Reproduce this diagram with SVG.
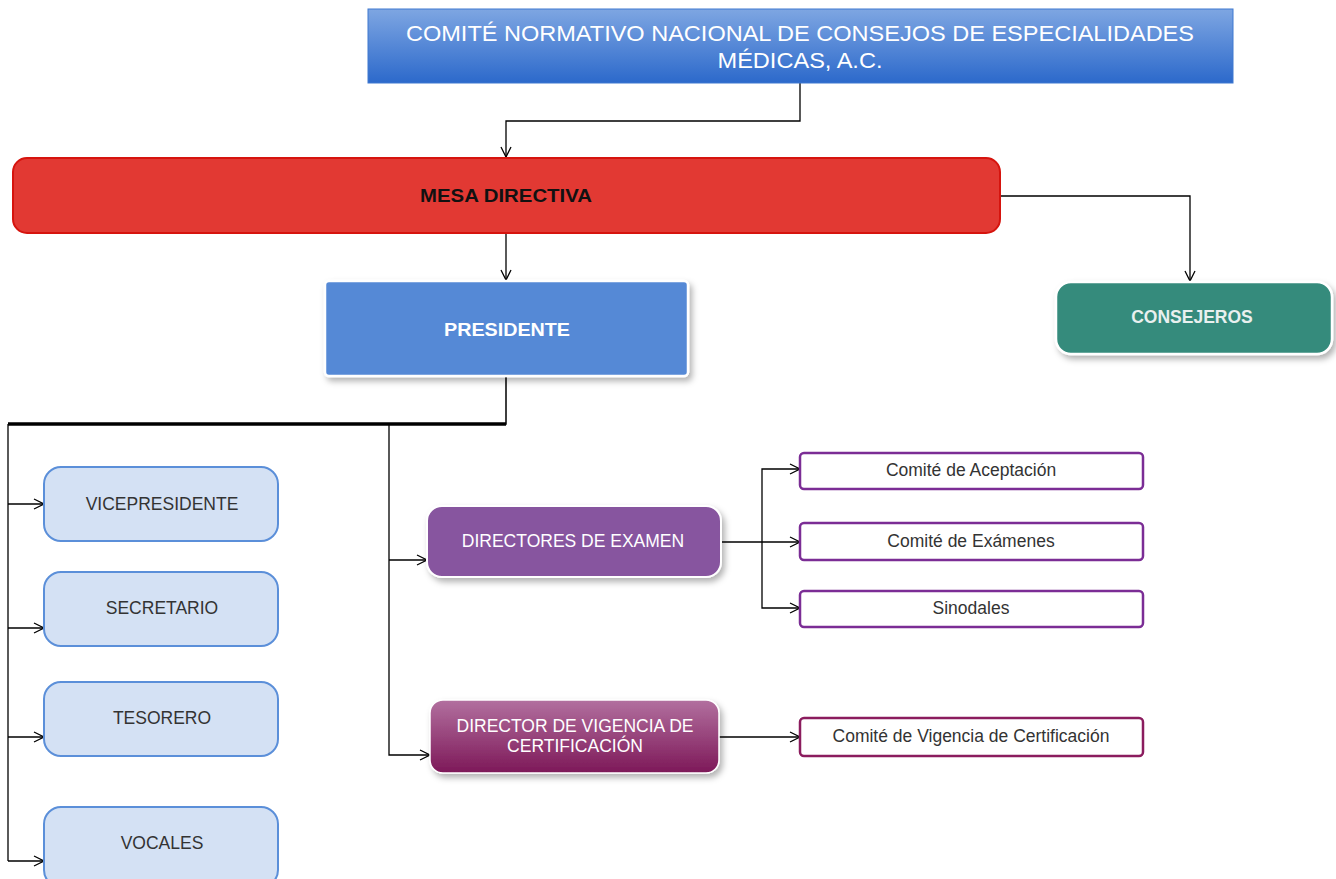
<svg xmlns="http://www.w3.org/2000/svg" width="1336" height="879" viewBox="0 0 1336 879">
<defs>
<linearGradient id="gTop" x1="0" y1="0" x2="0" y2="1"><stop offset="0" stop-color="#7ea6e2"/><stop offset="1" stop-color="#2c69cb"/></linearGradient>
<linearGradient id="gVig" x1="0" y1="0" x2="0" y2="1"><stop offset="0" stop-color="#b2709f"/><stop offset="1" stop-color="#7d1858"/></linearGradient>
<filter id="sh" x="-10%" y="-20%" width="130%" height="150%"><feDropShadow dx="3" dy="4" stdDeviation="3" flood-color="#000" flood-opacity="0.3"/></filter>
<marker id="ar" viewBox="0 0 12 12" refX="11" refY="6" markerWidth="12" markerHeight="12" markerUnits="userSpaceOnUse" orient="auto"><path d="M1,1 L11,6 L1,11" fill="none" stroke="#000" stroke-width="1.3"/></marker>
</defs>
<style>
text{font-family:"Liberation Sans",Arial,sans-serif;text-anchor:middle;dominant-baseline:central}
.c{fill:none;stroke:#000;stroke-width:1.3}
.blue{fill:#d4e1f4;stroke:#5b8fd9;stroke-width:2}
.sub{fill:#fff;stroke:#7b2d95;stroke-width:2.5}
.dark{fill:#333;font-size:17.5px}
.subt{fill:#333;font-size:17.5px}
.wt{fill:#fff;font-size:17.5px}
</style>
<rect width="1336" height="879" fill="#fff"/>
<g id="connectors">
<path class="c" d="M800,83 V121 H506 V157" marker-end="url(#ar)"/>
<path class="c" d="M1000,196 H1190 V281" marker-end="url(#ar)"/>
<path class="c" d="M506,233 V280" marker-end="url(#ar)"/>
<path d="M506,376 V424 H8" fill="none" stroke="#000" stroke-width="1.5"/>
<path d="M8,424 H506" fill="none" stroke="#000" stroke-width="3.5"/>
<path class="c" d="M8,424 V861"/>
<path class="c" d="M8,504 H44" marker-end="url(#ar)"/>
<path class="c" d="M8,628 H44" marker-end="url(#ar)"/>
<path class="c" d="M8,737 H44" marker-end="url(#ar)"/>
<path class="c" d="M8,861 H44" marker-end="url(#ar)"/>
<path class="c" d="M389,424 V755 H430" marker-end="url(#ar)"/>
<path class="c" d="M389,560 H427" marker-end="url(#ar)"/>
<path class="c" d="M721,542 H800" marker-end="url(#ar)"/>
<path class="c" d="M762,542 V469 H800" marker-end="url(#ar)"/>
<path class="c" d="M762,542 V608 H800" marker-end="url(#ar)"/>
<path class="c" d="M719,737 H800" marker-end="url(#ar)"/>
</g>
<g id="n-comite">
<rect x="368" y="9" width="865" height="74" fill="url(#gTop)" stroke="#3f78d0" stroke-width="1"/>
<text x="800" y="33" fill="#fff" font-size="22" textLength="788" lengthAdjust="spacingAndGlyphs">COMITÉ NORMATIVO NACIONAL DE CONSEJOS DE ESPECIALIDADES</text>
<text x="800" y="60" fill="#fff" font-size="22" textLength="165" lengthAdjust="spacingAndGlyphs">MÉDICAS, A.C.</text>
</g>
<g id="n-mesa">
<rect x="13" y="158" width="987" height="75" rx="14" fill="#e23933" stroke="#d6140e" stroke-width="2"/>
<text x="506" y="196" font-size="18" font-weight="bold" fill="#111" textLength="172" lengthAdjust="spacingAndGlyphs">MESA DIRECTIVA</text>
</g>
<g id="n-presidente">
<rect x="325" y="281" width="363" height="95" rx="4" fill="#5489d6" stroke="#fff" stroke-width="2.5" filter="url(#sh)"/>
<text x="507" y="329" font-size="19" font-weight="800" fill="#fff" font-family="Open Sans, sans-serif" textLength="126" lengthAdjust="spacingAndGlyphs">PRESIDENTE</text>
</g>
<g id="n-consejeros">
<rect x="1056" y="282" width="276" height="72" rx="15" fill="#348b7c" stroke="#fff" stroke-width="2.5" filter="url(#sh)"/>
<text x="1192" y="317" font-size="17.5" font-weight="bold" fill="#e9f0ef">CONSEJEROS</text>
</g>
<g id="n-vice"><rect class="blue" x="44" y="467" width="234" height="74" rx="17"/><text class="dark" x="162" y="504">VICEPRESIDENTE</text></g>
<g id="n-secretario"><rect class="blue" x="44" y="572" width="234" height="74" rx="17"/><text class="dark" x="162" y="608">SECRETARIO</text></g>
<g id="n-tesorero"><rect class="blue" x="44" y="682" width="234" height="74" rx="17"/><text class="dark" x="162" y="718">TESORERO</text></g>
<g id="n-vocales"><rect class="blue" x="44" y="807" width="234" height="80" rx="17"/><text class="dark" x="162" y="843">VOCALES</text></g>
<g id="n-directores">
<rect x="427" y="506" width="294" height="71" rx="15" fill="#87559f" stroke="#fff" stroke-width="2" filter="url(#sh)"/>
<text class="wt" x="573" y="541">DIRECTORES DE EXAMEN</text>
</g>
<g id="n-vigencia">
<rect x="430" y="700" width="289" height="73" rx="13" fill="url(#gVig)" stroke="#fff" stroke-width="1.5" filter="url(#sh)"/>
<text class="wt" x="575" y="726">DIRECTOR DE VIGENCIA DE</text>
<text class="wt" x="575" y="746">CERTIFICACIÓN</text>
</g>
<g id="n-aceptacion"><rect class="sub" x="800" y="453" width="343" height="36" rx="4"/><text class="subt" x="971" y="470">Comité de Aceptación</text></g>
<g id="n-examenes"><rect class="sub" x="800" y="523" width="343" height="37" rx="4"/><text class="subt" x="971" y="541">Comité de Exámenes</text></g>
<g id="n-sinodales"><rect class="sub" x="800" y="591" width="343" height="36" rx="4"/><text class="subt" x="971" y="608">Sinodales</text></g>
<g id="n-comvig"><rect x="800" y="718" width="343" height="38" rx="4" fill="#fff" stroke="#8b1c5e" stroke-width="2.5"/><text class="subt" x="971" y="736">Comité de Vigencia de Certificación</text></g>
</svg>
